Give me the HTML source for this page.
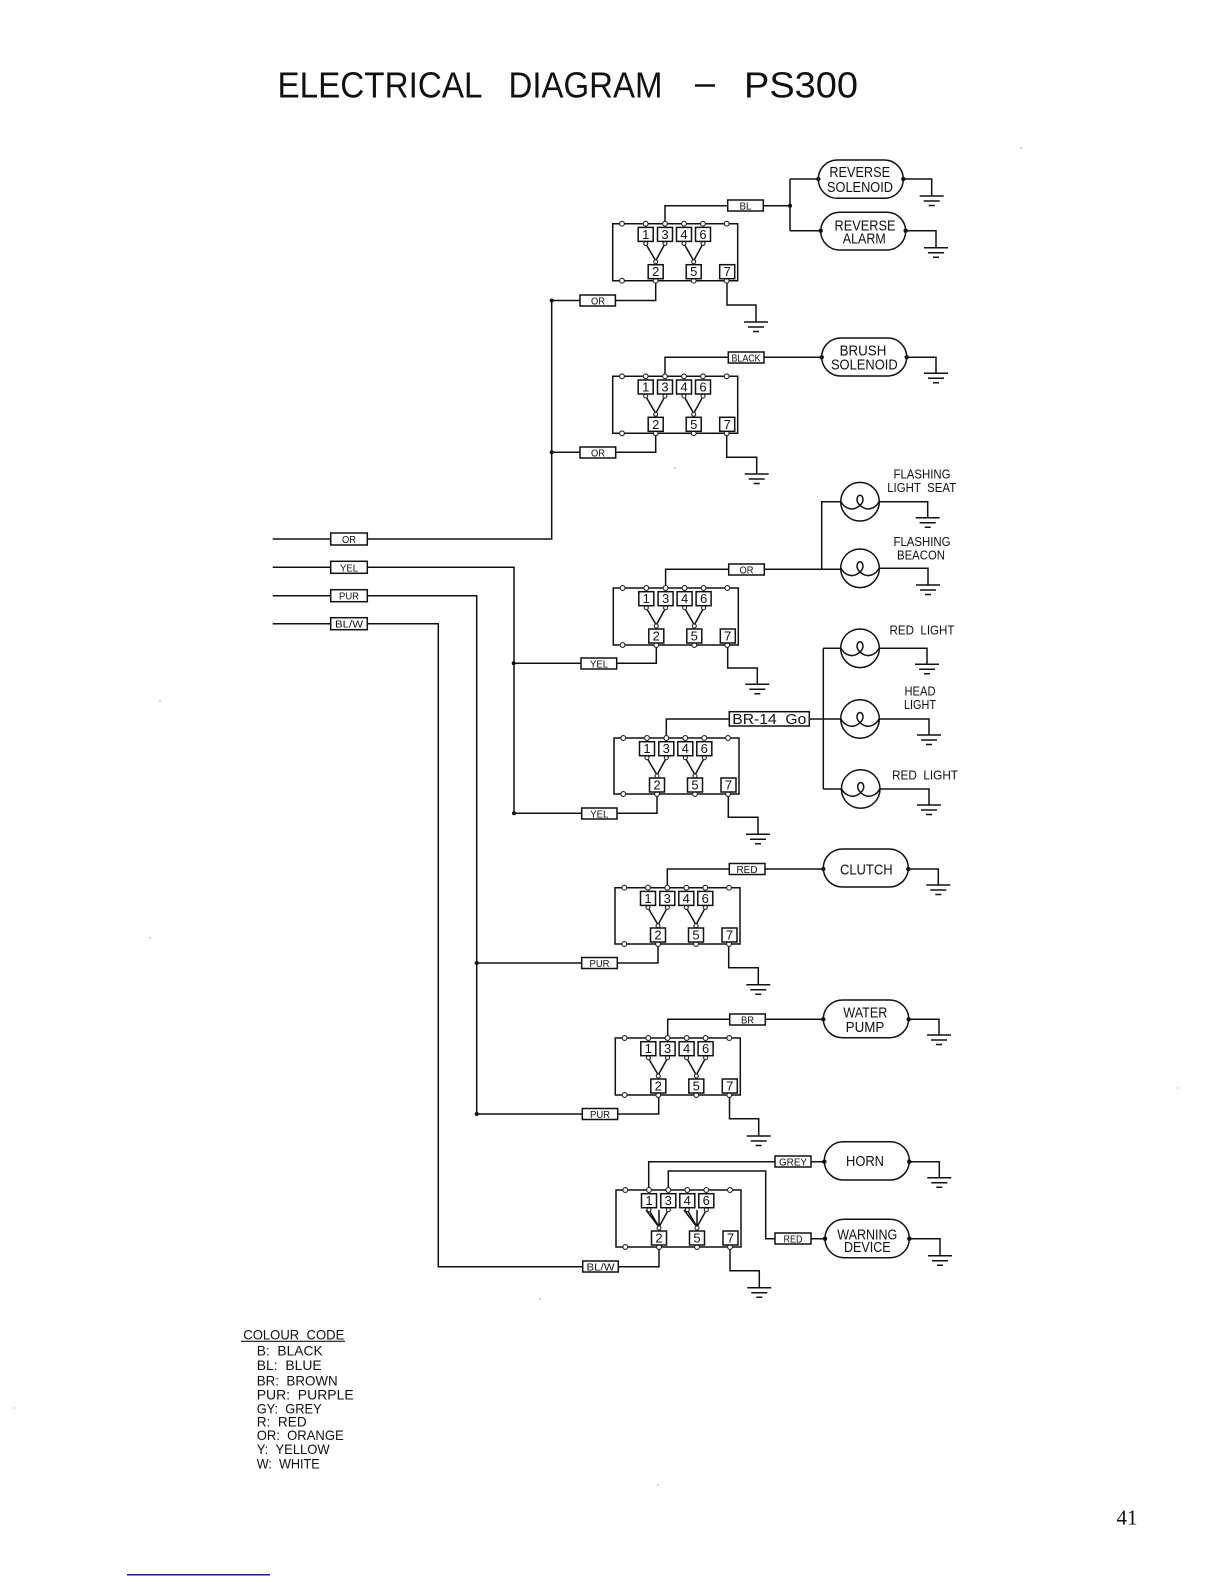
<!DOCTYPE html>
<html><head><meta charset="utf-8"><title>Electrical Diagram - PS300</title>
<style>
html,body{margin:0;padding:0;background:#fff}
svg{display:block}
.w{fill:none;stroke:#111;stroke-width:1.5}
.b{fill:#fff;stroke:#111;stroke-width:1.5}
.c{fill:#fff;stroke:#222;stroke-width:1.1}
.d{fill:#111}
text{font-family:"Liberation Sans",sans-serif;fill:#111;text-anchor:middle}
.n{font-size:13px}
.l{font-size:10.5px}
.k{font-size:14.5px}
.f{font-size:12.5px}
.t{font-size:36px;text-anchor:start}
.cc{font-size:14px;text-anchor:start}
</style></head><body>
<svg width="1224" height="1584" viewBox="0 0 1224 1584" xmlns="http://www.w3.org/2000/svg">
<rect width="1224" height="1584" fill="#fff"/>

<!-- title -->
<text class="t" x="277.5" y="97.5" textLength="205" lengthAdjust="spacingAndGlyphs">ELECTRICAL</text>
<text class="t" x="508.5" y="97.5" textLength="154" lengthAdjust="spacingAndGlyphs">DIAGRAM</text>
<path d="M695 85.5H715" stroke="#111" stroke-width="2.5" fill="none"/>
<text class="t" x="744" y="97.5" textLength="114" lengthAdjust="spacingAndGlyphs">PS300</text>

<!-- main input wires -->
<path class="w" d="M272.7 539H330.7M367.3 539H551.7V300.5"/>
<path class="w" d="M272.7 567.3H330.7M367.3 567.3H514V813.3"/>
<path class="w" d="M272.7 595.7H330.7M367.3 595.7H476.7V1114"/>
<path class="w" d="M272.7 623.7H330.7M367.3 623.7H438.3V1266.7H582.7"/>
<rect class="b" x="330.7" y="533" width="36.6" height="12"/><text class="l" x="349" y="543" textLength="14" lengthAdjust="spacingAndGlyphs">OR</text>
<rect class="b" x="330.7" y="561.3" width="36.6" height="12"/><text class="l" x="349" y="571.3" textLength="18" lengthAdjust="spacingAndGlyphs">YEL</text>
<rect class="b" x="330.7" y="589.7" width="36.6" height="12"/><text class="l" x="349" y="599.7" textLength="20" lengthAdjust="spacingAndGlyphs">PUR</text>
<rect class="b" x="330.7" y="617.7" width="36.6" height="12"/><text class="l" x="349" y="627.7" textLength="28" lengthAdjust="spacingAndGlyphs">BL/W</text>

<!-- wiring -->
<path class="w" d="M665 223.7V205.7H727.7M763.3 205.7H790M790 179V230.7M790 179H818M790 230.7H820.7M903.3 179H931.7V196M905.7 230.7H936V247.7M655.7 281V300.5H615.4M580 300.5H551.7M727 281V305H756V322"/>
<path class="w" d="M665 376V357.3H728.3M764 357.3H821.7M905.7 357.3H936V373.3M655.7 433V452.3H615.7M580 452.3H551.7M726.7 433V457.3H756.7V474"/>
<path class="w" d="M665.6 588V569.3H728.7M764.3 569.3H840.7M821.7 569.3V501.7H840.7M879.3 501.7H927.7V517.7M879.3 568.3H928V585M656.3 645V663.3H616.7M581 663.3H513.7M727.7 645V668H757.3V684.3"/>
<path class="w" d="M666.3 738V719H729.3M809.3 719H840.7M823.3 648.3V789M823.3 648.3H840.7M823.3 789H841.4M879.3 648.3H927V664.3M879.3 719H929V735M880 789H929V805M657 794V813.3H617M581.7 813.3H514M728.3 794V817.3H758V834.3"/>
<path class="w" d="M667.3 887.7V869H729.3M765 869H823.3M908.3 869H938.3V885M658 944V963H617.3M581.7 963H476.7M728.7 944V967.7H758.3V984.7"/>
<path class="w" d="M667.7 1038V1019.3H729.7M765.3 1019.3H823.3M908.7 1019.3H939V1035M658.7 1095V1114H617.7M582.3 1114H476.7M729.5 1095V1118.7H758.7V1136"/>
<path class="w" d="M648.7 1190V1161.7H775M811 1161.7H824.3M668.3 1190V1171H765.7V1238.7H775M811 1238.7H825M909.3 1161.7H939.3V1177.7M909.3 1238.7H940V1255.7M659 1247V1266.7H618.3M730 1247V1270.7H759.3V1287.7"/>

<!-- grounds -->
<path class="w" d="M919.7 196h24M923.7 201h16M928.7 205.5h6M924 247.7h24M928 252.7h16M933 257.2h6M744 322h24M748 327h16M753 331.5h6M924 373.3h24M928 378.3h16M933 382.8h6M744.7 474h24M748.7 479h16M753.7 483.5h6M915.7 517.7h24M919.7 522.7h16M924.7 527.2h6M916 585h24M920 590h16M925 594.5h6M745.3 684.3h24M749.3 689.3h16M754.3 693.8h6M915 664.3h24M919 669.3h16M924 673.8h6M917 735h24M921 740h16M926 744.5h6M917 805h24M921 810h16M926 814.5h6M746 834.3h24M750 839.3h16M755 843.8h6M926.3 885h24M930.3 890h16M935.3 894.5h6M746.3 984.7h24M750.3 989.7h16M755.3 994.2h6M927 1035h24M931 1040h16M936 1044.5h6M746.7 1136h24M750.7 1141h16M755.7 1145.5h6M927.3 1177.7h24M931.3 1182.7h16M936.3 1187.2h6M928 1255.7h24M932 1260.7h16M937 1265.2h6M747.3 1287.7h24M751.3 1292.7h16M756.3 1297.2h6"/>

<!-- wire labels -->
<rect class="b" x="727.7" y="200" width="35.6" height="11"/><text class="l" x="745.5" y="209.5" textLength="12" lengthAdjust="spacingAndGlyphs">BL</text>
<rect class="b" x="580" y="295" width="35.4" height="11"/><text class="l" x="598" y="304.5" textLength="14" lengthAdjust="spacingAndGlyphs">OR</text>
<rect class="b" x="728.3" y="352" width="35.7" height="11"/><text class="l" x="746" y="361.5" textLength="29" lengthAdjust="spacingAndGlyphs">BLACK</text>
<rect class="b" x="580" y="447" width="35.7" height="11"/><text class="l" x="598" y="456.5" textLength="14" lengthAdjust="spacingAndGlyphs">OR</text>
<rect class="b" x="728.7" y="564" width="35.6" height="11"/><text class="l" x="746.5" y="573.5" textLength="14" lengthAdjust="spacingAndGlyphs">OR</text>
<rect class="b" x="581" y="658" width="35.7" height="11"/><text class="l" x="599" y="667.5" textLength="18" lengthAdjust="spacingAndGlyphs">YEL</text>
<rect class="b" x="729.3" y="711.7" width="80" height="14.3"/><text class="k" x="769.3" y="724" textLength="74" lengthAdjust="spacingAndGlyphs">BR-14&#160;&#160;Go</text>
<rect class="b" x="581.7" y="808" width="35.3" height="11"/><text class="l" x="599.3" y="817.5" textLength="18" lengthAdjust="spacingAndGlyphs">YEL</text>
<rect class="b" x="729.3" y="863.5" width="35.7" height="11"/><text class="l" x="747" y="873" textLength="21" lengthAdjust="spacingAndGlyphs">RED</text>
<rect class="b" x="581.7" y="957.5" width="35.6" height="11"/><text class="l" x="599.5" y="967" textLength="20" lengthAdjust="spacingAndGlyphs">PUR</text>
<rect class="b" x="729.7" y="1014" width="35.6" height="11"/><text class="l" x="747.5" y="1023.5" textLength="13" lengthAdjust="spacingAndGlyphs">BR</text>
<rect class="b" x="582.3" y="1108.5" width="35.4" height="11"/><text class="l" x="600" y="1118" textLength="20" lengthAdjust="spacingAndGlyphs">PUR</text>
<rect class="b" x="775" y="1156" width="36" height="11"/><text class="l" x="793" y="1165.5" textLength="28" lengthAdjust="spacingAndGlyphs">GREY</text>
<rect class="b" x="775" y="1233" width="36" height="11"/><text class="l" x="793" y="1242.5" textLength="19" lengthAdjust="spacingAndGlyphs">RED</text>
<rect class="b" x="582.7" y="1261" width="35.6" height="11"/><text class="l" x="600.5" y="1270.5" textLength="28" lengthAdjust="spacingAndGlyphs">BL/W</text>

<!-- relay 1 -->
<g transform="translate(612.7 223.7)"><path class="w" d="M0 0H125V57H0ZM33 20L43 37L52.3 20M71.3 20L81 37L90.3 20M43 37V41M81 37V41"/><circle class="c" cx="9.3" cy="0" r="2.4"/><circle class="c" cx="33" cy="0" r="2.4"/><circle class="c" cx="52.3" cy="0" r="2.4"/><circle class="c" cx="71.3" cy="0" r="2.4"/><circle class="c" cx="90.3" cy="0" r="2.4"/><circle class="c" cx="114" cy="0" r="2.4"/><circle class="c" cx="33" cy="19.7" r="2"/><circle class="c" cx="52.3" cy="19.7" r="2"/><circle class="c" cx="71.3" cy="19.7" r="2"/><circle class="c" cx="90.3" cy="19.7" r="2"/><circle class="c" cx="43" cy="38" r="2"/><circle class="c" cx="81" cy="38" r="2"/><circle class="c" cx="9.3" cy="57" r="2.4"/><circle class="c" cx="43" cy="57" r="2.4"/><circle class="c" cx="81" cy="57" r="2.4"/><circle class="c" cx="114" cy="57" r="2.4"/><rect class="b" x="25.5" y="3.7" width="15" height="14"/><rect class="b" x="44.8" y="3.7" width="15" height="14"/><rect class="b" x="63.8" y="3.7" width="15" height="14"/><rect class="b" x="82.8" y="3.7" width="15" height="14"/><rect class="b" x="35.5" y="41" width="15" height="14"/><rect class="b" x="73.5" y="41" width="15" height="14"/><rect class="b" x="107" y="41" width="15" height="14"/><text class="n" x="33" y="15.2">1</text><text class="n" x="52.3" y="15.2">3</text><text class="n" x="71.3" y="15.2">4</text><text class="n" x="90.3" y="15.2">6</text><text class="n" x="43" y="52.5">2</text><text class="n" x="81" y="52.5">5</text><text class="n" x="114.5" y="52.5">7</text></g>
<!-- relay 2 -->
<g transform="translate(612.7 376.3)"><path class="w" d="M0 0H125V57H0ZM33 20L43 37L52.3 20M71.3 20L81 37L90.3 20M43 37V41M81 37V41"/><circle class="c" cx="9.3" cy="0" r="2.4"/><circle class="c" cx="33" cy="0" r="2.4"/><circle class="c" cx="52.3" cy="0" r="2.4"/><circle class="c" cx="71.3" cy="0" r="2.4"/><circle class="c" cx="90.3" cy="0" r="2.4"/><circle class="c" cx="114" cy="0" r="2.4"/><circle class="c" cx="33" cy="19.7" r="2"/><circle class="c" cx="52.3" cy="19.7" r="2"/><circle class="c" cx="71.3" cy="19.7" r="2"/><circle class="c" cx="90.3" cy="19.7" r="2"/><circle class="c" cx="43" cy="38" r="2"/><circle class="c" cx="81" cy="38" r="2"/><circle class="c" cx="9.3" cy="57" r="2.4"/><circle class="c" cx="43" cy="57" r="2.4"/><circle class="c" cx="81" cy="57" r="2.4"/><circle class="c" cx="114" cy="57" r="2.4"/><rect class="b" x="25.5" y="3.7" width="15" height="14"/><rect class="b" x="44.8" y="3.7" width="15" height="14"/><rect class="b" x="63.8" y="3.7" width="15" height="14"/><rect class="b" x="82.8" y="3.7" width="15" height="14"/><rect class="b" x="35.5" y="41" width="15" height="14"/><rect class="b" x="73.5" y="41" width="15" height="14"/><rect class="b" x="107" y="41" width="15" height="14"/><text class="n" x="33" y="15.2">1</text><text class="n" x="52.3" y="15.2">3</text><text class="n" x="71.3" y="15.2">4</text><text class="n" x="90.3" y="15.2">6</text><text class="n" x="43" y="52.5">2</text><text class="n" x="81" y="52.5">5</text><text class="n" x="114.5" y="52.5">7</text></g>
<!-- relay 3 -->
<g transform="translate(613.3 588)"><path class="w" d="M0 0H125V57H0ZM33 20L43 37L52.3 20M71.3 20L81 37L90.3 20M43 37V41M81 37V41"/><circle class="c" cx="9.3" cy="0" r="2.4"/><circle class="c" cx="33" cy="0" r="2.4"/><circle class="c" cx="52.3" cy="0" r="2.4"/><circle class="c" cx="71.3" cy="0" r="2.4"/><circle class="c" cx="90.3" cy="0" r="2.4"/><circle class="c" cx="114" cy="0" r="2.4"/><circle class="c" cx="33" cy="19.7" r="2"/><circle class="c" cx="52.3" cy="19.7" r="2"/><circle class="c" cx="71.3" cy="19.7" r="2"/><circle class="c" cx="90.3" cy="19.7" r="2"/><circle class="c" cx="43" cy="38" r="2"/><circle class="c" cx="81" cy="38" r="2"/><circle class="c" cx="9.3" cy="57" r="2.4"/><circle class="c" cx="43" cy="57" r="2.4"/><circle class="c" cx="81" cy="57" r="2.4"/><circle class="c" cx="114" cy="57" r="2.4"/><rect class="b" x="25.5" y="3.7" width="15" height="14"/><rect class="b" x="44.8" y="3.7" width="15" height="14"/><rect class="b" x="63.8" y="3.7" width="15" height="14"/><rect class="b" x="82.8" y="3.7" width="15" height="14"/><rect class="b" x="35.5" y="41" width="15" height="14"/><rect class="b" x="73.5" y="41" width="15" height="14"/><rect class="b" x="107" y="41" width="15" height="14"/><text class="n" x="33" y="15.2">1</text><text class="n" x="52.3" y="15.2">3</text><text class="n" x="71.3" y="15.2">4</text><text class="n" x="90.3" y="15.2">6</text><text class="n" x="43" y="52.5">2</text><text class="n" x="81" y="52.5">5</text><text class="n" x="114.5" y="52.5">7</text></g>
<!-- relay 4 -->
<g transform="translate(614 738)"><path class="w" d="M0 0H125V56H0ZM33 20L43 37L52.3 20M71.3 20L81 37L90.3 20M43 37V41M81 37V41"/><circle class="c" cx="9.3" cy="0" r="2.4"/><circle class="c" cx="33" cy="0" r="2.4"/><circle class="c" cx="52.3" cy="0" r="2.4"/><circle class="c" cx="71.3" cy="0" r="2.4"/><circle class="c" cx="90.3" cy="0" r="2.4"/><circle class="c" cx="114" cy="0" r="2.4"/><circle class="c" cx="33" cy="19.7" r="2"/><circle class="c" cx="52.3" cy="19.7" r="2"/><circle class="c" cx="71.3" cy="19.7" r="2"/><circle class="c" cx="90.3" cy="19.7" r="2"/><circle class="c" cx="43" cy="38" r="2"/><circle class="c" cx="81" cy="38" r="2"/><circle class="c" cx="9.3" cy="56" r="2.4"/><circle class="c" cx="43" cy="56" r="2.4"/><circle class="c" cx="81" cy="56" r="2.4"/><circle class="c" cx="114" cy="56" r="2.4"/><rect class="b" x="25.5" y="3.7" width="15" height="14"/><rect class="b" x="44.8" y="3.7" width="15" height="14"/><rect class="b" x="63.8" y="3.7" width="15" height="14"/><rect class="b" x="82.8" y="3.7" width="15" height="14"/><rect class="b" x="35.5" y="40" width="15" height="14"/><rect class="b" x="73.5" y="40" width="15" height="14"/><rect class="b" x="107" y="40" width="15" height="14"/><text class="n" x="33" y="15.2">1</text><text class="n" x="52.3" y="15.2">3</text><text class="n" x="71.3" y="15.2">4</text><text class="n" x="90.3" y="15.2">6</text><text class="n" x="43" y="51.5">2</text><text class="n" x="81" y="51.5">5</text><text class="n" x="114.5" y="51.5">7</text></g>
<!-- relay 5 -->
<g transform="translate(615 887.7)"><path class="w" d="M0 0H125V56.3H0ZM33 20L43 37L52.3 20M71.3 20L81 37L90.3 20M43 37V41M81 37V41"/><circle class="c" cx="9.3" cy="0" r="2.4"/><circle class="c" cx="33" cy="0" r="2.4"/><circle class="c" cx="52.3" cy="0" r="2.4"/><circle class="c" cx="71.3" cy="0" r="2.4"/><circle class="c" cx="90.3" cy="0" r="2.4"/><circle class="c" cx="114" cy="0" r="2.4"/><circle class="c" cx="33" cy="19.7" r="2"/><circle class="c" cx="52.3" cy="19.7" r="2"/><circle class="c" cx="71.3" cy="19.7" r="2"/><circle class="c" cx="90.3" cy="19.7" r="2"/><circle class="c" cx="43" cy="38" r="2"/><circle class="c" cx="81" cy="38" r="2"/><circle class="c" cx="9.3" cy="56.3" r="2.4"/><circle class="c" cx="43" cy="56.3" r="2.4"/><circle class="c" cx="81" cy="56.3" r="2.4"/><circle class="c" cx="114" cy="56.3" r="2.4"/><rect class="b" x="25.5" y="3.7" width="15" height="14"/><rect class="b" x="44.8" y="3.7" width="15" height="14"/><rect class="b" x="63.8" y="3.7" width="15" height="14"/><rect class="b" x="82.8" y="3.7" width="15" height="14"/><rect class="b" x="35.5" y="40.3" width="15" height="14"/><rect class="b" x="73.5" y="40.3" width="15" height="14"/><rect class="b" x="107" y="40.3" width="15" height="14"/><text class="n" x="33" y="15.2">1</text><text class="n" x="52.3" y="15.2">3</text><text class="n" x="71.3" y="15.2">4</text><text class="n" x="90.3" y="15.2">6</text><text class="n" x="43" y="51.8">2</text><text class="n" x="81" y="51.8">5</text><text class="n" x="114.5" y="51.8">7</text></g>
<!-- relay 6 -->
<g transform="translate(615.3 1038)"><path class="w" d="M0 0H125V57H0ZM33 20L43 37L52.3 20M71.3 20L81 37L90.3 20M43 37V41M81 37V41"/><circle class="c" cx="9.3" cy="0" r="2.4"/><circle class="c" cx="33" cy="0" r="2.4"/><circle class="c" cx="52.3" cy="0" r="2.4"/><circle class="c" cx="71.3" cy="0" r="2.4"/><circle class="c" cx="90.3" cy="0" r="2.4"/><circle class="c" cx="114" cy="0" r="2.4"/><circle class="c" cx="33" cy="19.7" r="2"/><circle class="c" cx="52.3" cy="19.7" r="2"/><circle class="c" cx="71.3" cy="19.7" r="2"/><circle class="c" cx="90.3" cy="19.7" r="2"/><circle class="c" cx="43" cy="38" r="2"/><circle class="c" cx="81" cy="38" r="2"/><circle class="c" cx="9.3" cy="57" r="2.4"/><circle class="c" cx="43" cy="57" r="2.4"/><circle class="c" cx="81" cy="57" r="2.4"/><circle class="c" cx="114" cy="57" r="2.4"/><rect class="b" x="25.5" y="3.7" width="15" height="14"/><rect class="b" x="44.8" y="3.7" width="15" height="14"/><rect class="b" x="63.8" y="3.7" width="15" height="14"/><rect class="b" x="82.8" y="3.7" width="15" height="14"/><rect class="b" x="35.5" y="41" width="15" height="14"/><rect class="b" x="73.5" y="41" width="15" height="14"/><rect class="b" x="107" y="41" width="15" height="14"/><text class="n" x="33" y="15.2">1</text><text class="n" x="52.3" y="15.2">3</text><text class="n" x="71.3" y="15.2">4</text><text class="n" x="90.3" y="15.2">6</text><text class="n" x="43" y="52.5">2</text><text class="n" x="81" y="52.5">5</text><text class="n" x="114.5" y="52.5">7</text></g>
<!-- relay 7 -->
<g transform="translate(616 1190)"><path class="w" d="M0 0H125V57H0ZM33 20L43 37L52.3 20M71.3 20L81 37L90.3 20M43 37V41M81 37V41M30 20L43 37M43 20V37M68 20L81 37M81 20V37"/><circle class="c" cx="9.3" cy="0" r="2.4"/><circle class="c" cx="33" cy="0" r="2.4"/><circle class="c" cx="52.3" cy="0" r="2.4"/><circle class="c" cx="71.3" cy="0" r="2.4"/><circle class="c" cx="90.3" cy="0" r="2.4"/><circle class="c" cx="114" cy="0" r="2.4"/><circle class="c" cx="33" cy="19.7" r="2"/><circle class="c" cx="52.3" cy="19.7" r="2"/><circle class="c" cx="71.3" cy="19.7" r="2"/><circle class="c" cx="90.3" cy="19.7" r="2"/><circle class="c" cx="43" cy="38" r="2"/><circle class="c" cx="81" cy="38" r="2"/><circle class="c" cx="9.3" cy="57" r="2.4"/><circle class="c" cx="43" cy="57" r="2.4"/><circle class="c" cx="81" cy="57" r="2.4"/><circle class="c" cx="114" cy="57" r="2.4"/><rect class="b" x="25.5" y="3.7" width="15" height="14"/><rect class="b" x="44.8" y="3.7" width="15" height="14"/><rect class="b" x="63.8" y="3.7" width="15" height="14"/><rect class="b" x="82.8" y="3.7" width="15" height="14"/><rect class="b" x="35.5" y="41" width="15" height="14"/><rect class="b" x="73.5" y="41" width="15" height="14"/><rect class="b" x="107" y="41" width="15" height="14"/><text class="n" x="33" y="15.2">1</text><text class="n" x="52.3" y="15.2">3</text><text class="n" x="71.3" y="15.2">4</text><text class="n" x="90.3" y="15.2">6</text><text class="n" x="43" y="52.5">2</text><text class="n" x="81" y="52.5">5</text><text class="n" x="114.5" y="52.5">7</text></g>

<!-- capsules -->
<rect class="b" x="818.3" y="160" width="85" height="38.3" rx="19" ry="19"/>
<text class="k" x="859.7" y="177" textLength="60.7" lengthAdjust="spacingAndGlyphs">REVERSE</text>
<text class="k" x="860" y="192" textLength="66" lengthAdjust="spacingAndGlyphs">SOLENOID</text>
<rect class="b" x="820.7" y="212.3" width="85" height="37.7" rx="19" ry="19"/>
<text class="k" x="865" y="230.3" textLength="61" lengthAdjust="spacingAndGlyphs">REVERSE</text>
<text class="k" x="864.3" y="243.6" textLength="43" lengthAdjust="spacingAndGlyphs">ALARM</text>
<rect class="b" x="821.7" y="338" width="85" height="38" rx="19" ry="19"/>
<text class="k" x="863" y="355.3" textLength="46.7" lengthAdjust="spacingAndGlyphs">BRUSH</text>
<text class="k" x="864.3" y="369.6" textLength="66.7" lengthAdjust="spacingAndGlyphs">SOLENOID</text>
<rect class="b" x="823.3" y="849" width="85" height="38" rx="19" ry="19"/>
<text class="k" x="866.3" y="874.3" textLength="52.7" lengthAdjust="spacingAndGlyphs">CLUTCH</text>
<rect class="b" x="823.3" y="1000" width="85.4" height="37.7" rx="19" ry="19"/>
<text class="k" x="865.3" y="1017.3" textLength="44" lengthAdjust="spacingAndGlyphs">WATER</text>
<text class="k" x="865" y="1032" textLength="38.7" lengthAdjust="spacingAndGlyphs">PUMP</text>
<rect class="b" x="824.3" y="1141.7" width="85" height="38.3" rx="19" ry="19"/>
<text class="k" x="865" y="1166" textLength="38" lengthAdjust="spacingAndGlyphs">HORN</text>
<rect class="b" x="825" y="1219.3" width="84.3" height="38.4" rx="19" ry="19"/>
<text class="k" x="867.3" y="1239.6" textLength="60" lengthAdjust="spacingAndGlyphs">WARNING</text>
<text class="k" x="867.3" y="1252" textLength="46.7" lengthAdjust="spacingAndGlyphs">DEVICE</text>

<!-- junction dots -->
<g class="d">
<circle cx="790" cy="205.7" r="2"/><circle cx="818.3" cy="179" r="2.2"/><circle cx="820.7" cy="230.7" r="2.2"/><circle cx="903.3" cy="179" r="2.2"/><circle cx="905.7" cy="230.7" r="2.2"/>
<circle cx="551.7" cy="300.5" r="2"/><circle cx="551.7" cy="452.3" r="2"/><circle cx="821.7" cy="357.3" r="2.2"/><circle cx="906.7" cy="357.3" r="2.2"/>
<circle cx="513.7" cy="663.3" r="2"/><circle cx="514" cy="813.3" r="2"/><circle cx="476.7" cy="963" r="2"/><circle cx="476.7" cy="1114" r="2"/>
<circle cx="823.3" cy="869" r="2.2"/><circle cx="908.3" cy="869" r="2.2"/><circle cx="823.3" cy="1019.3" r="2.2"/><circle cx="908.7" cy="1019.3" r="2.2"/>
<circle cx="824.3" cy="1161.7" r="2.2"/><circle cx="909.3" cy="1161.7" r="2.2"/><circle cx="825" cy="1238.7" r="2.2"/><circle cx="909.3" cy="1238.7" r="2.2"/>
</g>

<!-- bulbs -->
<g transform="translate(860 501.7)"><circle class="w" r="19.3"/><path class="w" d="M-19 0C-16 6-10 8-6 7C-2 6 3 2 3-2C3-5 1.5-6.5 0-6.5C-1.5-6.5-3-5-3-2C-3 2 2 6 6 7C10 8 16 6 19 0"/></g>
<g transform="translate(860 568.3)"><circle class="w" r="19.3"/><path class="w" d="M-19 0C-16 6-10 8-6 7C-2 6 3 2 3-2C3-5 1.5-6.5 0-6.5C-1.5-6.5-3-5-3-2C-3 2 2 6 6 7C10 8 16 6 19 0"/></g>
<g transform="translate(860 648.3)"><circle class="w" r="19.3"/><path class="w" d="M-19 0C-16 6-10 8-6 7C-2 6 3 2 3-2C3-5 1.5-6.5 0-6.5C-1.5-6.5-3-5-3-2C-3 2 2 6 6 7C10 8 16 6 19 0"/></g>
<g transform="translate(860 719)"><circle class="w" r="19.3"/><path class="w" d="M-19 0C-16 6-10 8-6 7C-2 6 3 2 3-2C3-5 1.5-6.5 0-6.5C-1.5-6.5-3-5-3-2C-3 2 2 6 6 7C10 8 16 6 19 0"/></g>
<g transform="translate(860.7 789)"><circle class="w" r="19.3"/><path class="w" d="M-19 0C-16 6-10 8-6 7C-2 6 3 2 3-2C3-5 1.5-6.5 0-6.5C-1.5-6.5-3-5-3-2C-3 2 2 6 6 7C10 8 16 6 19 0"/></g>

<!-- lamp labels -->
<text class="f" x="922" y="478.5" textLength="57" lengthAdjust="spacingAndGlyphs">FLASHING</text>
<text class="f" x="921.7" y="491.8" textLength="69" lengthAdjust="spacingAndGlyphs">LIGHT&#160;&#160;SEAT</text>
<text class="f" x="922" y="546.2" textLength="57" lengthAdjust="spacingAndGlyphs">FLASHING</text>
<text class="f" x="921" y="559.5" textLength="48" lengthAdjust="spacingAndGlyphs">BEACON</text>
<text class="f" x="922" y="634.5" textLength="65" lengthAdjust="spacingAndGlyphs">RED&#160;&#160;LIGHT</text>
<text class="f" x="920" y="695.5" textLength="31" lengthAdjust="spacingAndGlyphs">HEAD</text>
<text class="f" x="920" y="708.8" textLength="32" lengthAdjust="spacingAndGlyphs">LIGHT</text>
<text class="f" x="925" y="779.5" textLength="66" lengthAdjust="spacingAndGlyphs">RED&#160;&#160;LIGHT</text>

<!-- colour code -->
<text class="cc" x="243.3" y="1339.3" textLength="101" lengthAdjust="spacingAndGlyphs">COLOUR&#160;&#160;CODE</text>
<path d="M241 1341.3H345" stroke="#111" stroke-width="1.2" fill="none"/>
<text class="cc" x="256.7" y="1355.7" textLength="66" lengthAdjust="spacingAndGlyphs">B:&#160;&#160;BLACK</text>
<text class="cc" x="256.7" y="1370" textLength="65" lengthAdjust="spacingAndGlyphs">BL:&#160;&#160;BLUE</text>
<text class="cc" x="256.7" y="1385.7" textLength="81" lengthAdjust="spacingAndGlyphs">BR:&#160;&#160;BROWN</text>
<text class="cc" x="256.7" y="1399.3" textLength="97" lengthAdjust="spacingAndGlyphs">PUR:&#160;&#160;PURPLE</text>
<text class="cc" x="256.7" y="1413.3" textLength="65" lengthAdjust="spacingAndGlyphs">GY:&#160;&#160;GREY</text>
<text class="cc" x="256.7" y="1426.7" textLength="50" lengthAdjust="spacingAndGlyphs">R:&#160;&#160;RED</text>
<text class="cc" x="256.7" y="1440" textLength="87" lengthAdjust="spacingAndGlyphs">OR:&#160;&#160;ORANGE</text>
<text class="cc" x="256.7" y="1454" textLength="73" lengthAdjust="spacingAndGlyphs">Y:&#160;&#160;YELLOW</text>
<text class="cc" x="256.7" y="1468.3" textLength="63" lengthAdjust="spacingAndGlyphs">W:&#160;&#160;WHITE</text>

<!-- page number and bottom rule -->
<text x="1127" y="1524.5" style="font-family:'Liberation Serif',serif;font-size:21px">41</text>
<path d="M127 1574.7H270" stroke="#1a1a8c" stroke-width="1.5" fill="none"/>

<!-- scan specks -->
<g fill="#999"><circle cx="1021" cy="148" r=".7"/><circle cx="160" cy="701" r=".7"/><circle cx="150" cy="938" r=".7"/><circle cx="675" cy="468" r=".7"/><circle cx="540" cy="1299" r=".7"/><circle cx="658" cy="1485" r=".7"/><circle cx="14" cy="1408" r=".6"/><circle cx="1178" cy="1088" r=".6"/></g>
</svg>
</body></html>
